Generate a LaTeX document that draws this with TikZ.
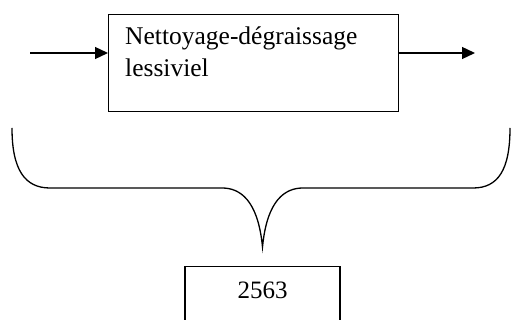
\documentclass[tikz,border=0pt]{standalone}
\usepackage{fontspec}
\setmainfont{Liberation Serif}
\usetikzlibrary{arrows.meta}
\tikzset{every picture/.append style={x=1pt, y=-1pt}}
\tikzset{
    box/.style={draw, line width=1.3pt, inner sep=0pt},
    txt/.style={inner sep=0pt, align=left, font=\fontsize{25.5}{32}\selectfont},
    flow/.style={line width=1.3pt, -{Triangle[length=13pt, width=12pt]}}
}

\begin{document}
\begin{tikzpicture}
  \useasboundingbox (0,0) rectangle (512,320);
  \clip (0,0) rectangle (512,320);
  \node (clean) [box, minimum width=290pt, minimum height=97pt, anchor=north west] at (108,14) {};
  \node (cleantxt) [txt, anchor=base west] at (125,77) {Nettoyage-dégraissage\\lessiviel};
  \node (total) [box, minimum width=155pt, text height=32pt, text depth=40pt, anchor=north,
      font=\fontsize{25}{32}\selectfont] at (262.5,266) {2563};
  \coordinate (in) at (30,53);
  \coordinate (out) at (475,53);
  \coordinate (bl) at (12,128);
  \coordinate (br) at (510,128);
  \coordinate (tip) at (262.5,247);

  \draw[flow] (in) -- (in -| clean.west);
  \draw[flow] (clean.east |- out) -- (out);
  % accolade
  \draw[line width=1.3pt] (bl) .. controls (12,170) and (25,188) .. (50,188) -- (222,188)
      .. controls (240,188) and (258,200) .. (tip)
      .. controls (267,200) and (285,188) .. (303,188) -- (473,188)
      .. controls (498,188) and (510,170) .. (br);
\end{tikzpicture}
\end{document}
